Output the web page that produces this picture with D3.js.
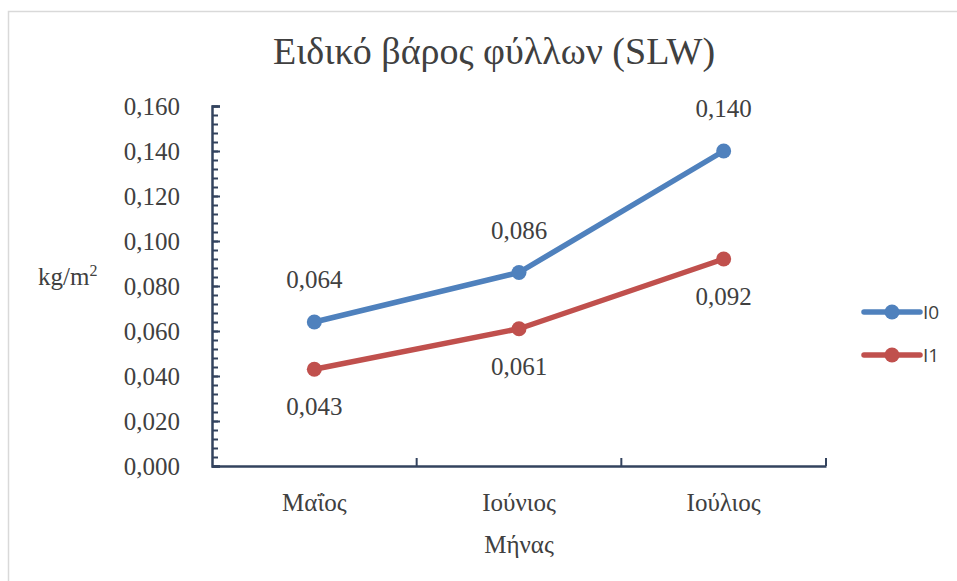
<!DOCTYPE html>
<html>
<head>
<meta charset="utf-8">
<script src="https://cdn.jsdelivr.net/npm/d3@7"></script>
<style>
    body { margin: 0; background: #fff; }
    text { font-family: "Liberation Serif", "DejaVu Serif", serif; fill: #404040; }
</style>
</head>
<body>
<svg id="chart" width="957" height="581"></svg>
<script>
// chart values
const months = ["Μαΐος", "Ιούνιος", "Ιούλιος"];
const seriesNames = ["I0", "I1"];
const valuesI0 = [0.064, 0.086, 0.140];
const valuesI1 = [0.043, 0.061, 0.092];
const yTicks = [0, 0.02, 0.04, 0.06, 0.08, 0.1, 0.12, 0.14, 0.16];
const yMinorTicks = d3.range(0, 41).map(i => i * 0.004);

const colors = { I0: "#4F81BD", I1: "#C0504D" };
const svg = d3.select("#chart");

// outer frame
svg.append("rect")
    .attr("x", 8.5).attr("y", 11.5)
    .attr("width", 960).attr("height", 600)
    .attr("fill", "none")
    .attr("stroke", "#d9d9d9")
    .attr("stroke-width", 1.5);

const plotLeft = 212, plotRight = 826, plotTop = 106, plotBottom = 466;

const x = d3.scaleBand().domain(months).range([plotLeft, plotRight]);
const y = d3.scaleLinear().domain([0, 0.16]).range([plotBottom, plotTop]);
const fmt = v => d3.format(".3f")(v).replace(".", ",");

const axisColor = "#33435e";

// y axis: minor ticks then major ticks, drawn inward
svg.append("g")
    .attr("transform", `translate(${plotLeft},0)`)
    .call(d3.axisRight(y).tickValues(yMinorTicks).tickSize(6).tickFormat(""))
    .call(g => g.select(".domain").remove())
    .call(g => g.selectAll("line").attr("stroke", axisColor).attr("stroke-width", 2));

const yAxis = svg.append("g")
    .attr("transform", `translate(${plotLeft},0)`)
    .call(d3.axisLeft(y).tickValues(yTicks).tickSize(-8).tickPadding(32).tickFormat(fmt));
yAxis.select(".domain").attr("stroke", axisColor).attr("stroke-width", 2.5);
yAxis.selectAll("line").attr("stroke", axisColor).attr("stroke-width", 2);
yAxis.selectAll("text")
    .style("font-family", "Liberation Serif")
    .style("font-size", "25px")
    .attr("fill", "#404040");

// x axis: ticks on band edges
const xAxis = svg.append("g")
    .attr("transform", `translate(0,${plotBottom})`)
    .call(d3.axisBottom(x).tickSize(0).tickSizeOuter(0).tickPadding(27));
xAxis.select(".domain").attr("stroke", axisColor).attr("stroke-width", 2.5);
xAxis.selectAll("text")
    .style("font-family", "Liberation Serif")
    .style("font-size", "25px")
    .attr("fill", "#404040")
    .attr("dy", "0.71em");

svg.append("g")
    .selectAll("line")
    .data(months.map(m => x(m)).slice(1).concat([plotRight]))
    .enter()
    .append("line")
    .attr("x1", d => d).attr("x2", d => d)
    .attr("y1", plotBottom).attr("y2", plotBottom - 8)
    .attr("stroke", axisColor)
    .attr("stroke-width", 2);

// titles
svg.append("text")
    .attr("x", 494).attr("y", 64)
    .attr("text-anchor", "middle")
    .style("font-size", "38px")
    .text("Ειδικό βάρος φύλλων (SLW)");

svg.append("text")
    .attr("x", x("Ιούνιος") + x.bandwidth() / 2).attr("y", 553)
    .attr("text-anchor", "middle")
    .style("font-size", "25px")
    .text("Μήνας");

const yLab = svg.append("text")
    .attr("x", 38).attr("y", 285)
    .style("font-size", "25px");
yLab.append("tspan").text("kg/m");
yLab.append("tspan").attr("dy", -9).style("font-size", "16px").text("2");

// lines, markers and value labels
const series = [
    { name: "I0", values: valuesI0, labelDy: -34 },
    { name: "I1", values: valuesI1, labelDy: 46 }
];

const line = d3.line()
    .x((d, i) => x(months[i]) + x.bandwidth() / 2)
    .y(d => y(d));

series.forEach(s => {
    svg.append("path")
        .datum(s.values)
        .attr("d", line)
        .attr("fill", "none")
        .attr("stroke", colors[s.name])
        .attr("stroke-width", 5.5)
        .attr("stroke-linejoin", "round")
        .attr("stroke-linecap", "round");

    svg.append("g")
        .selectAll("circle")
        .data(s.values)
        .enter()
        .append("circle")
        .attr("cx", (d, i) => x(months[i]) + x.bandwidth() / 2)
        .attr("cy", d => y(d))
        .attr("r", 7.5)
        .attr("fill", colors[s.name]);

    svg.append("g")
        .selectAll("text")
        .data(s.values)
        .enter()
        .append("text")
        .attr("x", (d, i) => x(months[i]) + x.bandwidth() / 2)
        .attr("y", d => y(d) + s.labelDy)
        .attr("text-anchor", "middle")
        .style("font-size", "25px")
        .text(d => fmt(d));
});

// legend
const legend = svg.append("g")
    .selectAll("g")
    .data(seriesNames)
    .enter()
    .append("g")
    .attr("transform", (d, i) => `translate(864,${312 + i * 43})`);

legend.append("line")
    .attr("x1", 0).attr("x2", 56)
    .attr("stroke", d => colors[d])
    .attr("stroke-width", 5.5)
    .attr("stroke-linecap", "round");
legend.append("circle")
    .attr("cx", 28).attr("r", 7.5)
    .attr("fill", d => colors[d]);
legend.append("text")
    .attr("x", 59).attr("dy", "0.36em")
    .style("font-family", "'Open Sans', sans-serif")
    .style("font-size", "19px")
    .text(d => d);
</script>
</body>
</html>
